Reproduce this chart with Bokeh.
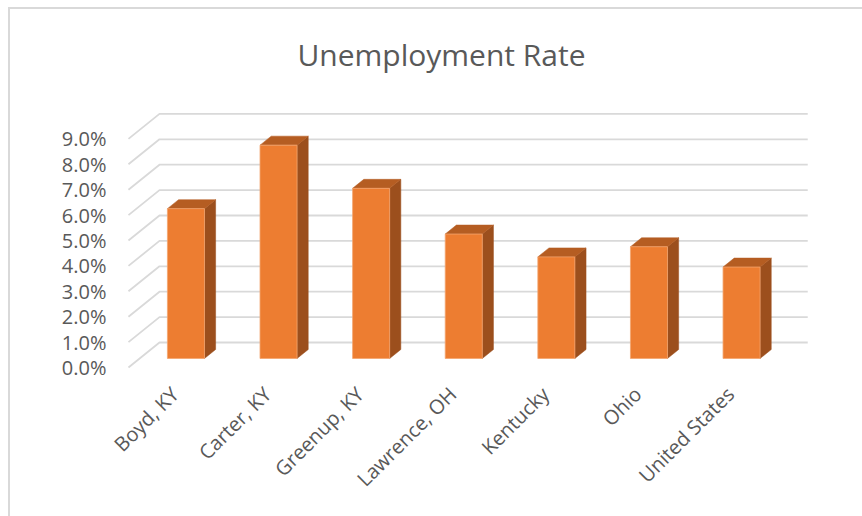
from bokeh.plotting import figure
from bokeh.models import ColumnDataSource, FixedTicker, Range1d, InlineStyleSheet, Label
from bokeh.embed import file_html
from bokeh.resources import INLINE

# ---- data ----
title_text = "Unemployment Rate"
categories = ["Boyd, KY", "Carter, KY", "Greenup, KY", "Lawrence, OH", "Kentucky", "Ohio", "United States"]
rates = [5.9, 8.4, 6.7, 4.9, 4.0, 4.4, 3.6]   # percent
y_ticks = [0, 1, 2, 3, 4, 5, 6, 7, 8, 9]
y_tick_labels = ["0.0%", "1.0%", "2.0%", "3.0%", "4.0%", "5.0%", "6.0%", "7.0%", "8.0%", "9.0%"]

# ---- 3D style (oblique projection), in data units ----
DX = 0.335      # x shift of the full depth (slot units)
DY = 0.984      # y shift of the full depth (percent units)
BAR_W = 0.40
D_FRONT = 0.36  # depth fraction of bar front face
D_BACK = 0.72   # depth fraction of bar back face

FRONT = "#ED7D31"
SIDE = "#9C4F1D"
TOP = "#B55D22"
GRID = "#d9d9d9"
TEXT = "#595959"
FONT = "Open Sans"

n = len(categories)
p = figure(width=862, height=516, output_backend="svg", toolbar_location=None,
           x_range=Range1d(-0.586, 6.973), y_range=Range1d(-0.197, 14.055),
           min_border_left=120, min_border_right=42, min_border_top=10, min_border_bottom=144)
p.outline_line_color = None
p.xgrid.visible = False
p.ygrid.visible = False
p.background_fill_color = "white"
p.border_fill_color = "white"

# chart-area border: only its left and top edges are in view
p.stylesheets = [InlineStyleSheet(css="""
:host::after {
  content: "";
  position: absolute;
  left: 8px; top: 7px; right: 0; bottom: 0;
  border-left: 2px solid #d9d9d9;
  border-top: 2px solid #d9d9d9;
  pointer-events: none;
}
""")]

# chart title, above the 3D box
p.add_layout(Label(x=2.88, y=12.32, text=title_text, text_align="center",
                   text_baseline="alphabetic", text_font=FONT, text_font_size="30px",
                   text_color=TEXT))

# gridlines: front-left diagonal + back wall line
gx, gy = [], []
for v in y_ticks:
    gx.append([-0.5, -0.5 + DX, n - 0.5 + DX])
    gy.append([v, v + DY, v + DY])
p.multi_line(xs=gx, ys=gy, line_color=GRID, line_width=1.8)

# bars
df_x, df_y = D_FRONT * DX, D_FRONT * DY
bd = (D_BACK - D_FRONT)
left = [i - BAR_W / 2 + df_x for i in range(n)]
right = [i + BAR_W / 2 + df_x for i in range(n)]
bottom = [df_y] * n
top = [r + df_y for r in rates]
src = ColumnDataSource(dict(left=left, right=right, bottom=bottom, top=top))

side_xs, side_ys, top_xs, top_ys = [], [], [], []
for i in range(n):
    r, l, t, b = right[i], left[i], top[i], bottom[i]
    side_xs.append([r, r + bd * DX, r + bd * DX, r])
    side_ys.append([b, b + bd * DY, t + bd * DY, t])
    top_xs.append([l, r, r + bd * DX, l + bd * DX])
    top_ys.append([t, t, t + bd * DY, t + bd * DY])

p.patches(xs=side_xs, ys=side_ys, fill_color=SIDE, line_color=SIDE, line_width=0.5)
p.patches(xs=top_xs, ys=top_ys, fill_color=TOP, line_color=TOP, line_width=0.5)
p.quad(left="left", right="right", bottom="bottom", top="top", source=src,
       fill_color=FRONT, line_color="#F4A56F", line_width=0.8)

# axes
p.yaxis.ticker = FixedTicker(ticks=y_ticks)
p.yaxis.major_label_overrides = {v: s for v, s in zip(y_ticks, y_tick_labels)}
p.yaxis.axis_line_color = None
p.yaxis.major_tick_line_color = None
p.yaxis.minor_tick_line_color = None
p.yaxis.major_tick_out = 0
p.yaxis.major_tick_in = 0
p.yaxis.major_label_standoff = 14
p.yaxis.major_label_text_font = FONT
p.yaxis.major_label_text_font_size = "20px"
p.yaxis.major_label_text_color = TEXT

p.xaxis.ticker = FixedTicker(ticks=list(range(n)))
p.xaxis.major_label_overrides = {i: c for i, c in enumerate(categories)}
p.xaxis.major_label_orientation = 0.785398
p.xaxis.axis_line_color = None
p.xaxis.major_tick_line_color = None
p.xaxis.minor_tick_line_color = None
p.xaxis.major_tick_out = 0
p.xaxis.major_tick_in = 0
p.xaxis.major_label_standoff = 18
p.xaxis.major_label_text_font = FONT
p.xaxis.major_label_text_font_size = "20px"
p.xaxis.major_label_text_color = TEXT

open("out.html", "w").write(file_html(p, INLINE))
